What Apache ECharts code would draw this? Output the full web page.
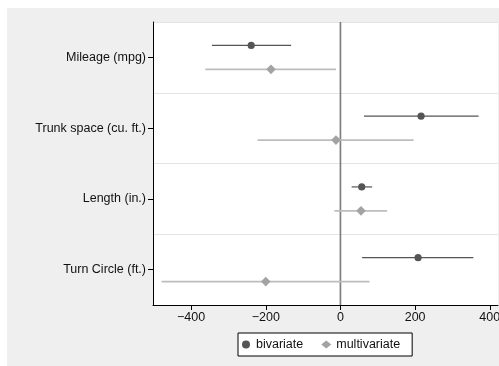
<!DOCTYPE html>
<html>
<head>
<meta charset="utf-8">
<script src="https://cdn.jsdelivr.net/npm/echarts@6/dist/echarts.min.js"></script>
<style>
html,body{margin:0;padding:0;background:#fff;}
#chart{width:499px;height:366px;}
</style>
</head>
<body>
<div id="chart"></div>
<script>
const categories = ['Mileage (mpg)', 'Trunk space (cu. ft.)', 'Length (in.)', 'Turn Circle (ft.)'];
// [lower, upper, estimate] per category
const bivariateLo  = [-344, 63, 30, 58];
const bivariateHi  = [-132, 370, 85, 356];
const bivariateEst = [-239, 216, 57, 208];
const multiLo  = [-362, -222, -16, -479];
const multiHi  = [-12, 196, 125, 78];
const multiEst = [-186, -12, 55, -200];
const xTicks = [-400, -200, 0, 200, 400];
const refLine = [0];

const FONT = "'Liberation Sans', Arial, Helvetica, sans-serif";

function build(lo, hi, est) {
  return categories.map((c, i) => [lo[i], hi[i], est[i], i]);
}

function makeRender(frac, shape, lineColor, lineWidth, markColor) {
  return function (params, api) {
    const lo = api.value(0), hi = api.value(1), est = api.value(2), cat = api.value(3);
    const band = api.size([0, 1])[1];
    const dy = frac * band;
    const p1 = api.coord([lo, cat]);
    const p2 = api.coord([hi, cat]);
    const pe = api.coord([est, cat]);
    const y = p1[1] + dy;
    const children = [{
      type: 'line',
      shape: { x1: p1[0], y1: y, x2: p2[0], y2: y },
      style: { stroke: lineColor, lineWidth: lineWidth }
    }];
    if (shape === 'circle') {
      children.push({ type: 'circle', shape: { cx: pe[0], cy: y, r: 3.6 }, style: { fill: markColor } });
    } else {
      const r = 4.8;
      children.push({ type: 'polygon', shape: { points: [[pe[0], y - r], [pe[0] + r, y], [pe[0], y + r], [pe[0] - r, y]] }, style: { fill: markColor } });
    }
    return { type: 'group', children: children };
  };
}

function renderRef(params, api) {
  const cs = params.coordSys;
  const x = api.coord([api.value(0), 0])[0];
  return {
    type: 'line',
    shape: { x1: x, y1: cs.y, x2: x, y2: cs.y + cs.height },
    style: { stroke: '#7f7f7f', lineWidth: 1.7 }
  };
}

const chart = echarts.init(document.getElementById('chart'), null, { renderer: 'canvas' });
chart.setOption({
  animation: false,
  backgroundColor: 'transparent',
  textStyle: { fontFamily: FONT },
  graphic: [{
    type: 'rect', z: -10, silent: true,
    shape: { x: 7, y: 8, width: 492, height: 358 },
    style: { fill: '#efefef' }
  }],
  grid: {
    left: 153, top: 22, right: 1, bottom: 61,
    outerBoundsMode: 'none',
    containLabel: false,
    show: true, backgroundColor: '#ffffff', borderWidth: 0
  },
  legend: {
    left: 238, top: 333,
    padding: [5, 12, 5, 4],
    itemGap: 18,
    itemWidth: 10, itemHeight: 8,
    backgroundColor: '#ffffff',
    borderColor: '#000000', borderWidth: 1,
    textStyle: { fontFamily: FONT, fontSize: 12.5, color: '#111' },
    data: [
      { name: 'bivariate', icon: 'circle', itemStyle: { color: '#555555' } },
      { name: 'multivariate', icon: 'diamond', itemStyle: { color: '#a3a3a3' } }
    ]
  },
  xAxis: {
    type: 'value',
    min: -502, max: 422,
    axisLine: { show: true, onZero: false, lineStyle: { color: '#000', width: 1 } },
    axisTick: { show: true, length: 5, lineStyle: { color: '#000' }, customValues: xTicks },
    axisLabel: {
      customValues: xTicks, margin: 6,
      fontFamily: FONT, fontSize: 12.5, color: '#111',
      formatter: v => (v < 0 ? '\u2212' + Math.abs(v) : String(v))
    },
    splitLine: { show: false }
  },
  yAxis: {
    type: 'category',
    data: categories,
    inverse: true,
    boundaryGap: true,
    axisLine: { show: true, onZero: false, lineStyle: { color: '#000', width: 1 } },
    axisTick: { show: true, length: 5, alignWithLabel: true, lineStyle: { color: '#000' } },
    axisLabel: { margin: 7, fontFamily: FONT, fontSize: 12.5, color: '#111' },
    splitLine: { show: true, lineStyle: { color: '#e4e4e4', width: 1 } }
  },
  series: [
    {
      name: 'zero', type: 'custom', silent: true,
      encode: { x: 0 },
      renderItem: renderRef,
      data: refLine.map(v => [v]),
      z: 1
    },
    {
      name: 'bivariate', type: 'custom',
      itemStyle: { color: '#555555' },
      encode: { x: [0, 1, 2], y: 3 },
      renderItem: makeRender(-0.169, 'circle', '#555555', 1.2, '#555555'),
      data: build(bivariateLo, bivariateHi, bivariateEst),
      z: 3
    },
    {
      name: 'multivariate', type: 'custom',
      itemStyle: { color: '#a3a3a3' },
      encode: { x: [0, 1, 2], y: 3 },
      renderItem: makeRender(0.169, 'diamond', '#bdbdbd', 1.6, '#a3a3a3'),
      data: build(multiLo, multiHi, multiEst),
      z: 2
    }
  ]
});
</script>
</body>
</html>
